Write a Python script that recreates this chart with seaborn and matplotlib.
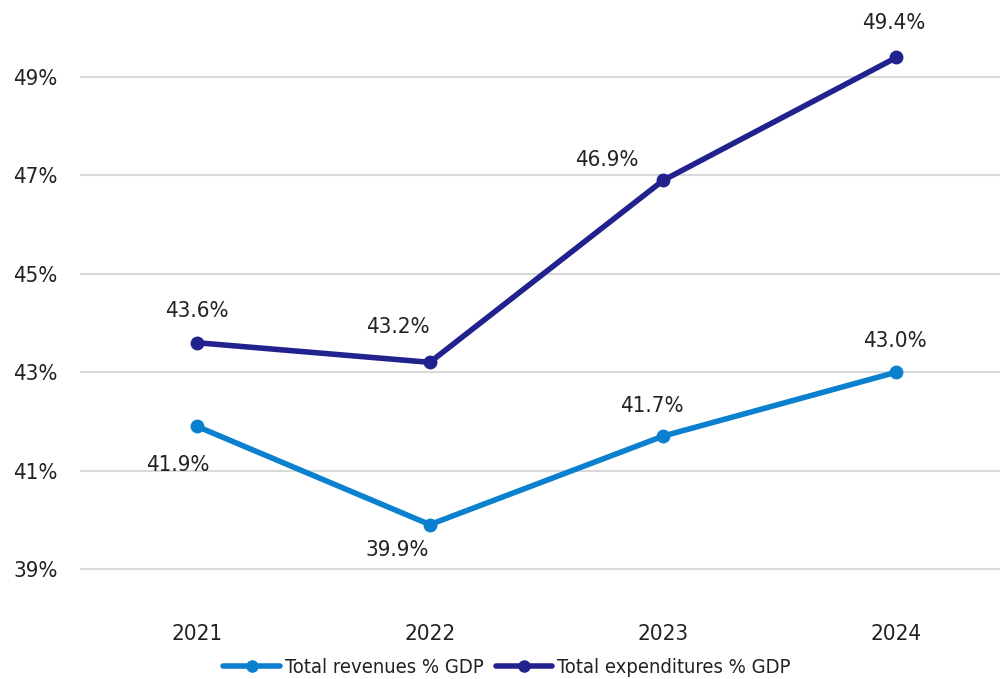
import matplotlib
matplotlib.use("Agg")
import matplotlib.pyplot as plt
import seaborn as sns
import pandas as pd
from matplotlib.lines import Line2D

years = [2021, 2022, 2023, 2024]
revenues = [41.9, 39.9, 41.7, 43.0]
expenditures = [43.6, 43.2, 46.9, 49.4]
series_names = ["Total revenues % GDP", "Total expenditures % GDP"]
colors = ["#0B80CF", "#22228E"]
y_ticks = [39, 41, 43, 45, 47, 49]

# label offsets in pixels (dx, dy)
rev_offsets = [(-19, -39), (-33, -25), (-11, 30), (-1, 31)]
exp_offsets = [(0, 32), (-32, 35), (-56, 20), (-3, 34)]

df = pd.DataFrame({
    "year": years * 2,
    "value": revenues + expenditures,
    "series": [series_names[0]] * 4 + [series_names[1]] * 4,
})

sns.set_theme(style="white")
plt.rcParams["font.family"] = ["DejaVu Sans"]
plt.rcParams["font.stretch"] = "condensed"
text_color = "#222222"

fig = plt.figure(figsize=(10, 6.79), dpi=100)
ax = fig.add_axes([0.08, 0.0898, 0.933, 0.869])

sns.lineplot(data=df, x="year", y="value", hue="series", palette=colors,
             marker="o", markersize=10, linewidth=4.0, markeredgewidth=0,
             ax=ax, legend=False, sort=False)

for vals, offs, in [(revenues, rev_offsets), (expenditures, exp_offsets)]:
    for x, v, (dx, dy) in zip(years, vals, offs):
        ax.annotate(f"{v:.1f}%", (x, v), xytext=(dx, dy), textcoords="offset pixels",
                    ha="center", va="center", fontsize=16, color=text_color)

ax.set_xlim(2020.5, 2024.5)
ax.set_ylim(38, 50)
ax.set_xticks(years)
ax.set_xticklabels([str(y) for y in years])
ax.set_yticks(y_ticks)
ax.set_yticklabels([f"{t}%" for t in y_ticks])
ax.tick_params(axis="both", labelsize=16, colors=text_color, length=0)
ax.tick_params(axis="x", pad=4)
ax.tick_params(axis="y", pad=16)
ax.set_xlabel("")
ax.set_ylabel("")
ax.grid(axis="y", color="#d9d9d9", linewidth=1.5)
ax.grid(axis="x", visible=False)
for s in ax.spines.values():
    s.set_visible(False)

handles = [Line2D([0], [0], color=c, linewidth=4.0, marker="o", markersize=8) for c in colors]
fig.legend(handles, series_names, loc="lower center", bbox_to_anchor=(0.507, -0.024),
           ncol=2, frameon=False, fontsize=14.5, handlelength=2.8, handletextpad=0.25,
           columnspacing=0.6, labelcolor=text_color)

fig.savefig("out.png", dpi=100, facecolor="white")
